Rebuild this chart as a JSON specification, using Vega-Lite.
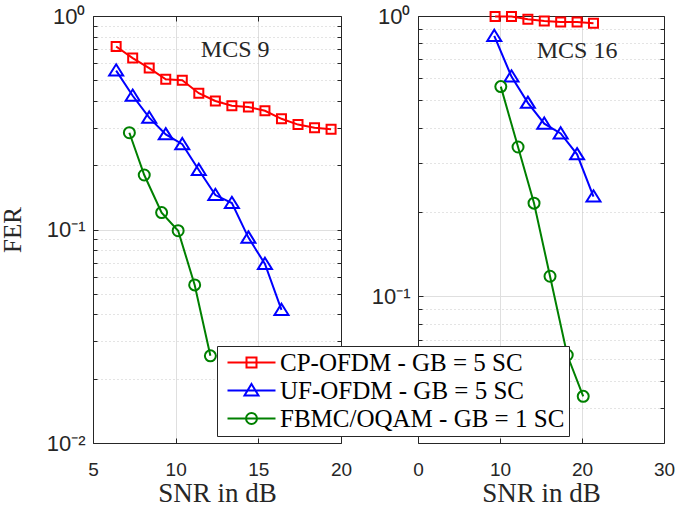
{
  "$schema": "https://vega.github.io/schema/vega-lite/v6.json",
  "autosize": {"type": "none"},
  "padding": {"left": 93, "top": 16, "right": 585, "bottom": 492},
  "background": "white",
  "datasets": {
    "mcs9": [
      {"scheme": "CP-OFDM - GB = 5 SC", "snr": 6.4, "fer": 0.72},
      {"scheme": "CP-OFDM - GB = 5 SC", "snr": 7.4, "fer": 0.635},
      {"scheme": "CP-OFDM - GB = 5 SC", "snr": 8.4, "fer": 0.57},
      {"scheme": "CP-OFDM - GB = 5 SC", "snr": 9.4, "fer": 0.505},
      {"scheme": "CP-OFDM - GB = 5 SC", "snr": 10.4, "fer": 0.5},
      {"scheme": "CP-OFDM - GB = 5 SC", "snr": 11.4, "fer": 0.435},
      {"scheme": "CP-OFDM - GB = 5 SC", "snr": 12.4, "fer": 0.4},
      {"scheme": "CP-OFDM - GB = 5 SC", "snr": 13.4, "fer": 0.38},
      {"scheme": "CP-OFDM - GB = 5 SC", "snr": 14.4, "fer": 0.375},
      {"scheme": "CP-OFDM - GB = 5 SC", "snr": 15.4, "fer": 0.36},
      {"scheme": "CP-OFDM - GB = 5 SC", "snr": 16.4, "fer": 0.33},
      {"scheme": "CP-OFDM - GB = 5 SC", "snr": 17.4, "fer": 0.31},
      {"scheme": "CP-OFDM - GB = 5 SC", "snr": 18.4, "fer": 0.3},
      {"scheme": "CP-OFDM - GB = 5 SC", "snr": 19.4, "fer": 0.295},
      {"scheme": "UF-OFDM - GB = 5 SC", "snr": 6.4, "fer": 0.555},
      {"scheme": "UF-OFDM - GB = 5 SC", "snr": 7.4, "fer": 0.423},
      {"scheme": "UF-OFDM - GB = 5 SC", "snr": 8.4, "fer": 0.334},
      {"scheme": "UF-OFDM - GB = 5 SC", "snr": 9.4, "fer": 0.279},
      {"scheme": "UF-OFDM - GB = 5 SC", "snr": 10.4, "fer": 0.251},
      {"scheme": "UF-OFDM - GB = 5 SC", "snr": 11.4, "fer": 0.19},
      {"scheme": "UF-OFDM - GB = 5 SC", "snr": 12.4, "fer": 0.145},
      {"scheme": "UF-OFDM - GB = 5 SC", "snr": 13.4, "fer": 0.133},
      {"scheme": "UF-OFDM - GB = 5 SC", "snr": 14.4, "fer": 0.0916},
      {"scheme": "UF-OFDM - GB = 5 SC", "snr": 15.4, "fer": 0.069},
      {"scheme": "UF-OFDM - GB = 5 SC", "snr": 16.4, "fer": 0.042},
      {"scheme": "FBMC/OQAM - GB = 1 SC", "snr": 7.2, "fer": 0.284},
      {"scheme": "FBMC/OQAM - GB = 1 SC", "snr": 8.1, "fer": 0.18},
      {"scheme": "FBMC/OQAM - GB = 1 SC", "snr": 9.15, "fer": 0.12},
      {"scheme": "FBMC/OQAM - GB = 1 SC", "snr": 10.15, "fer": 0.0987},
      {"scheme": "FBMC/OQAM - GB = 1 SC", "snr": 11.15, "fer": 0.055},
      {"scheme": "FBMC/OQAM - GB = 1 SC", "snr": 12.1, "fer": 0.0256}
    ],
    "mcs16": [
      {"scheme": "CP-OFDM - GB = 5 SC", "snr": 9.4, "fer": 0.995},
      {"scheme": "CP-OFDM - GB = 5 SC", "snr": 11.4, "fer": 0.995},
      {"scheme": "CP-OFDM - GB = 5 SC", "snr": 13.4, "fer": 0.973},
      {"scheme": "CP-OFDM - GB = 5 SC", "snr": 15.4, "fer": 0.96},
      {"scheme": "CP-OFDM - GB = 5 SC", "snr": 17.4, "fer": 0.952},
      {"scheme": "CP-OFDM - GB = 5 SC", "snr": 19.4, "fer": 0.952},
      {"scheme": "CP-OFDM - GB = 5 SC", "snr": 21.4, "fer": 0.942},
      {"scheme": "UF-OFDM - GB = 5 SC", "snr": 9.3, "fer": 0.849},
      {"scheme": "UF-OFDM - GB = 5 SC", "snr": 11.4, "fer": 0.608},
      {"scheme": "UF-OFDM - GB = 5 SC", "snr": 13.4, "fer": 0.49},
      {"scheme": "UF-OFDM - GB = 5 SC", "snr": 15.4, "fer": 0.413},
      {"scheme": "UF-OFDM - GB = 5 SC", "snr": 17.4, "fer": 0.381},
      {"scheme": "UF-OFDM - GB = 5 SC", "snr": 19.4, "fer": 0.321},
      {"scheme": "UF-OFDM - GB = 5 SC", "snr": 21.4, "fer": 0.227},
      {"scheme": "FBMC/OQAM - GB = 1 SC", "snr": 10.1, "fer": 0.56},
      {"scheme": "FBMC/OQAM - GB = 1 SC", "snr": 12.2, "fer": 0.341},
      {"scheme": "FBMC/OQAM - GB = 1 SC", "snr": 14.15, "fer": 0.215},
      {"scheme": "FBMC/OQAM - GB = 1 SC", "snr": 16.1, "fer": 0.118},
      {"scheme": "FBMC/OQAM - GB = 1 SC", "snr": 18.2, "fer": 0.0618},
      {"scheme": "FBMC/OQAM - GB = 1 SC", "snr": 20.15, "fer": 0.044}
    ]
  },
  "bounds": "flush",
  "spacing": 77,
  "hconcat": [
    {
      "width": 248,
      "height": 427,
      "data": {"name": "mcs9"},
      "layer": [
        {
          "mark": {"type": "line", "strokeWidth": 2},
          "encoding": {
            "x": {"field": "snr", "type": "quantitative", "scale": {"domain": [5, 20], "nice": false, "zero": false},
              "axis": {"orient": "bottom", "values": [5, 10, 15, 20], "grid": true, "gridColor": "#dfdfdf", "tickSize": -5, "tickColor": "#262626", "domain": true, "domainColor": "#262626", "labelFont": "Liberation Sans", "labelFontSize": 19, "labelColor": "#262626", "labelPadding": 22, "labelFlush": false, "labelOverlap": false, "title": "SNR in dB", "titleFont": "Liberation Serif", "titleFontSize": 27, "titleFontWeight": "normal", "titleColor": "#262626", "titlePadding": 1}},
            "y": {"field": "fer", "type": "quantitative", "scale": {"type": "log", "domain": [0.01, 1], "nice": false},
              "axis": {"orient": "left", "values": [0.01, 0.1, 1], "labelExpr": "datum.value > 0.5 ? '10⁰' : datum.value > 0.05 ? '10⁻¹' : '10⁻²'", "grid": true, "gridColor": "#dfdfdf", "tickSize": -5, "tickColor": "#262626", "domain": true, "domainColor": "#262626", "labelFont": "Liberation Sans", "labelFontSize": 22, "labelColor": "#262626", "labelPadding": 13, "labelOverlap": false, "labelFlush": false, "title": "FER", "titleFont": "Liberation Serif", "titleFontSize": 25, "titleFontWeight": "normal", "titleColor": "#262626", "titlePadding": 21}},
            "color": {"field": "scheme", "type": "nominal",
              "scale": {"domain": ["CP-OFDM - GB = 5 SC", "UF-OFDM - GB = 5 SC", "FBMC/OQAM - GB = 1 SC"], "range": ["#ff0000", "#0000ff", "#008000"]},
              "legend": {"title": null, "symbolOffset": 18, "labelOffset": 16, "encode": {"symbols": {"update": {"fill": {"value": "transparent"}, "strokeWidth": {"value": 2}, "size": {"value": 100}, "shape": [{"test": "datum.value === 'CP-OFDM - GB = 5 SC'", "value": "M-4.8,0H4.8M-1,-1H1V1H-1Z"}, {"test": "datum.value === 'UF-OFDM - GB = 5 SC'", "value": "M-4.8,0H4.8M0,-1.3L1.4,1H-1.4Z"}, {"value": "M-4.8,0H4.8M-1.1,0A1.1,1.1,0,1,1,1.1,0A1.1,1.1,0,1,1,-1.1,0Z"}]}}}}}
          }
        },
        {
          "mark": {"type": "point", "filled": false, "size": 100, "strokeWidth": 2, "opacity": 1},
          "encoding": {
            "x": {"field": "snr", "type": "quantitative",
              "axis": {"orient": "top", "values": [5, 10, 15, 20], "grid": false, "labels": false, "tickSize": -5, "tickColor": "#262626", "domain": true, "domainColor": "#262626", "title": null}},
            "y": {"field": "fer", "type": "quantitative",
              "axis": {"orient": "right", "values": [0.02, 0.03, 0.04, 0.05, 0.06, 0.07, 0.08, 0.09, 0.1, 0.2, 0.3, 0.4, 0.5, 0.6, 0.7, 0.8, 0.9], "grid": false, "labels": false, "tickSize": -4, "tickColor": "#262626", "domain": true, "domainColor": "#262626", "title": null}},
            "color": {"field": "scheme", "type": "nominal",
              "legend": {"title": null, "symbolOffset": 18, "labelOffset": 16, "encode": {"symbols": {"update": {"fill": {"value": "transparent"}, "strokeWidth": {"value": 2}, "size": {"value": 100}, "shape": [{"test": "datum.value === 'CP-OFDM - GB = 5 SC'", "value": "M-4.8,0H4.8M-1,-1H1V1H-1Z"}, {"test": "datum.value === 'UF-OFDM - GB = 5 SC'", "value": "M-4.8,0H4.8M0,-1.3L1.4,1H-1.4Z"}, {"value": "M-4.8,0H4.8M-1.1,0A1.1,1.1,0,1,1,1.1,0A1.1,1.1,0,1,1,-1.1,0Z"}]}}}}},
            "shape": {"field": "scheme", "type": "nominal",
              "scale": {"range": ["M-0.9,-0.9H0.9V0.9H-0.9Z", "M-1.1,0A1.1,1.1,0,1,1,1.1,0A1.1,1.1,0,1,1,-1.1,0Z", "M0,-1.25L1.4,1H-1.4Z"]},
              "legend": null}
          }
        },
        {
          "data": {"values": [{"label": "MCS 9"}]},
          "mark": {"type": "text", "font": "Liberation Serif", "fontSize": 24, "color": "#262626", "align": "center", "baseline": "middle"},
          "encoding": {
            "x": {"datum": 13.6, "type": "quantitative", "axis": null},
            "y": {"datum": 0.69, "type": "quantitative",
              "axis": {"orient": "left", "values": [0.02, 0.03, 0.04, 0.05, 0.06, 0.07, 0.08, 0.09, 0.2, 0.3, 0.4, 0.5, 0.6, 0.7, 0.8, 0.9], "grid": true, "gridColor": "#c8c8c8", "gridDash": [1, 3], "labels": false, "tickSize": -4, "tickColor": "#262626", "domain": false, "title": null}},
            "text": {"field": "label"}
          }
        }
      ],
      "resolve": {"axis": {"x": "independent", "y": "independent"}}
    },
    {
      "width": 246,
      "height": 427,
      "data": {"name": "mcs16"},
      "layer": [
        {
          "mark": {"type": "line", "strokeWidth": 2},
          "encoding": {
            "x": {"field": "snr", "type": "quantitative", "scale": {"domain": [0, 30], "nice": false, "zero": false},
              "axis": {"orient": "bottom", "values": [0, 10, 20, 30], "grid": true, "gridColor": "#dfdfdf", "tickSize": -5, "tickColor": "#262626", "domain": true, "domainColor": "#262626", "labelFont": "Liberation Sans", "labelFontSize": 19, "labelColor": "#262626", "labelPadding": 22, "labelFlush": false, "labelOverlap": false, "title": "SNR in dB", "titleFont": "Liberation Serif", "titleFontSize": 27, "titleFontWeight": "normal", "titleColor": "#262626", "titlePadding": 1}},
            "y": {"field": "fer", "type": "quantitative", "scale": {"type": "log", "domain": [0.03, 1], "nice": false},
              "axis": {"orient": "left", "values": [0.1, 1], "labelExpr": "datum.value > 0.5 ? '10⁰' : '10⁻¹'", "grid": true, "gridColor": "#dfdfdf", "tickSize": -5, "tickColor": "#262626", "domain": true, "domainColor": "#262626", "labelFont": "Liberation Sans", "labelFontSize": 22, "labelColor": "#262626", "labelPadding": 13, "labelOverlap": false, "labelFlush": false, "title": null}},
            "color": {"field": "scheme", "type": "nominal",
              "legend": {"title": null, "symbolOffset": 18, "labelOffset": 16, "encode": {"symbols": {"update": {"fill": {"value": "transparent"}, "strokeWidth": {"value": 2}, "size": {"value": 100}, "shape": [{"test": "datum.value === 'CP-OFDM - GB = 5 SC'", "value": "M-4.8,0H4.8M-1,-1H1V1H-1Z"}, {"test": "datum.value === 'UF-OFDM - GB = 5 SC'", "value": "M-4.8,0H4.8M0,-1.3L1.4,1H-1.4Z"}, {"value": "M-4.8,0H4.8M-1.1,0A1.1,1.1,0,1,1,1.1,0A1.1,1.1,0,1,1,-1.1,0Z"}]}}}}}
          }
        },
        {
          "mark": {"type": "point", "filled": false, "size": 100, "strokeWidth": 2, "opacity": 1},
          "encoding": {
            "x": {"field": "snr", "type": "quantitative",
              "axis": {"orient": "top", "values": [0, 10, 20, 30], "grid": false, "labels": false, "tickSize": -5, "tickColor": "#262626", "domain": true, "domainColor": "#262626", "title": null}},
            "y": {"field": "fer", "type": "quantitative",
              "axis": {"orient": "right", "values": [0.04, 0.05, 0.06, 0.07, 0.08, 0.09, 0.1, 0.2, 0.3, 0.4, 0.5, 0.6, 0.7, 0.8, 0.9], "grid": false, "labels": false, "tickSize": -4, "tickColor": "#262626", "domain": true, "domainColor": "#262626", "title": null}},
            "color": {"field": "scheme", "type": "nominal",
              "legend": {"title": null, "symbolOffset": 18, "labelOffset": 16, "encode": {"symbols": {"update": {"fill": {"value": "transparent"}, "strokeWidth": {"value": 2}, "size": {"value": 100}, "shape": [{"test": "datum.value === 'CP-OFDM - GB = 5 SC'", "value": "M-4.8,0H4.8M-1,-1H1V1H-1Z"}, {"test": "datum.value === 'UF-OFDM - GB = 5 SC'", "value": "M-4.8,0H4.8M0,-1.3L1.4,1H-1.4Z"}, {"value": "M-4.8,0H4.8M-1.1,0A1.1,1.1,0,1,1,1.1,0A1.1,1.1,0,1,1,-1.1,0Z"}]}}}}},
            "shape": {"field": "scheme", "type": "nominal", "legend": null}
          }
        },
        {
          "data": {"values": [{"label": "MCS 16"}]},
          "mark": {"type": "text", "font": "Liberation Serif", "fontSize": 24, "color": "#262626", "align": "center", "baseline": "middle"},
          "encoding": {
            "x": {"datum": 19.4, "type": "quantitative", "axis": null},
            "y": {"datum": 0.75, "type": "quantitative",
              "axis": {"orient": "left", "values": [0.04, 0.05, 0.06, 0.07, 0.08, 0.09, 0.2, 0.3, 0.4, 0.5, 0.6, 0.7, 0.8, 0.9], "grid": true, "gridColor": "#c8c8c8", "gridDash": [1, 3], "labels": false, "tickSize": -4, "tickColor": "#262626", "domain": false, "title": null}},
            "text": {"field": "label"}
          }
        }
      ],
      "resolve": {"axis": {"x": "independent", "y": "independent"}}
    }
  ],
  "config": {
    "view": {"stroke": null},
    "legend": {"orient": "none", "legendX": 124, "legendY": 330, "padding": 4, "fillColor": "white", "strokeColor": "#262626", "labelFont": "Liberation Serif", "labelFontSize": 25, "labelColor": "#000000", "symbolSize": 100, "symbolStrokeWidth": 2, "rowPadding": 2, "labelLimit": 500}
  }
}
